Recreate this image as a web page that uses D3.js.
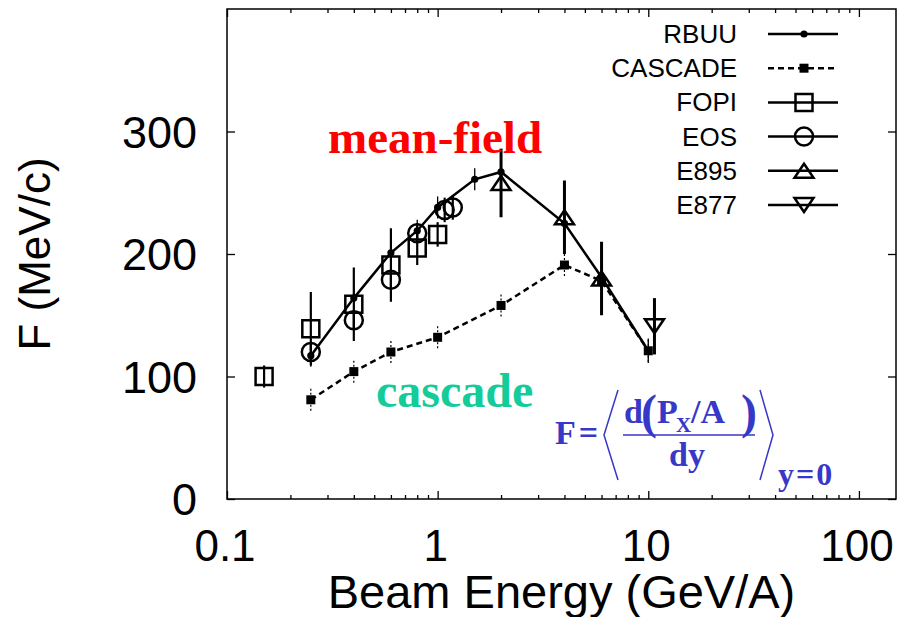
<!DOCTYPE html>
<html>
<head>
<meta charset="UTF-8" />
<script src="https://d3js.org/d3.v7.min.js"></script>
<style>
    body { margin: 0; background: #fff; }
    .sans { font-family: "Liberation Sans", Arial, sans-serif; }
    .serif { font-family: "Liberation Serif", "Times New Roman", serif; font-weight: bold; }
</style>
</head>
<body>
<svg id="chart" width="901" height="617"></svg>
<script>
// model curves
var rbuuE = [0.25, 0.4, 0.6, 0.8, 1.0, 1.5, 2, 4, 6, 10];
var rbuuF = [117, 164, 201, 219, 238, 261, 267, 225, 181, 121];
var rbuuErr = [9, 9, 9, 9, 9, 9, 9, 9, 9, 10];

var cascE = [0.25, 0.4, 0.6, 1.0, 2, 4, 6, 10];
var cascF = [81, 104, 120, 132, 158, 191, 178, 121];
var cascErr = [9, 9, 9, 9, 9, 9, 9, 9];

// experiments
var fopiE = [0.15, 0.25, 0.4, 0.6, 0.8, 1.0];
var fopiF = [100, 139, 159, 191, 205, 216];
var fopiErr = [9, 30, 30, 30, 14, 10];

var eosE = [0.25, 0.4, 0.6, 0.8, 1.08, 1.18];
var eosF = [120, 146, 179, 217, 236, 238];
var eosErr = [8, 8, 8, 8, 10, 10];

var e895E = [2, 4, 6];
var e895F = [258, 230, 180];
var e895Err = [28, 30, 30];

var e877E = [10.7];
var e877F = [141];
var e877Err = [23];

var legendNames = ["RBUU", "CASCADE", "FOPI", "EOS", "E895", "E877"];
var xMajor = [0.1, 1, 10, 100];
var xMinor = [];
[0.1, 1, 10, 100].forEach(function (d) {
    for (var k = 2; k <= 9; k++) { if (d * k <= 150) xMinor.push(d * k); }
});
var yMajor = [0, 100, 200, 300];

var svg = d3.select("#chart");
var pL = 227, pR = 896, pT = 9, pB = 499;

var x = d3.scaleLog().domain([0.1, 150]).range([pL, pR]);
var y = d3.scaleLinear().domain([0, 400]).range([pB, pT]);

// frame
svg.append("rect")
    .attr("x", pL).attr("y", pT)
    .attr("width", pR - pL).attr("height", pB - pT)
    .attr("fill", "none").attr("stroke", "#000").attr("stroke-width", 1.5);

function styleAxis(g) {
    g.select(".domain").remove();
    g.selectAll("line").attr("stroke", "#000").attr("stroke-width", 1.3);
    g.selectAll("text").remove();
}

// ticks pointing inward on all four sides
svg.append("g").attr("transform", "translate(0," + pB + ")")
    .call(d3.axisTop(x).tickValues(xMajor).tickSize(8)).call(styleAxis);
svg.append("g").attr("transform", "translate(0," + pB + ")")
    .call(d3.axisTop(x).tickValues(xMinor).tickSize(4)).call(styleAxis);
svg.append("g").attr("transform", "translate(0," + pT + ")")
    .call(d3.axisBottom(x).tickValues(xMajor).tickSize(8)).call(styleAxis);
svg.append("g").attr("transform", "translate(0," + pT + ")")
    .call(d3.axisBottom(x).tickValues(xMinor).tickSize(4)).call(styleAxis);
svg.append("g").attr("transform", "translate(" + pL + ",0)")
    .call(d3.axisRight(y).tickValues(yMajor).tickSize(8)).call(styleAxis);
svg.append("g").attr("transform", "translate(" + pR + ",0)")
    .call(d3.axisLeft(y).tickValues(yMajor).tickSize(8)).call(styleAxis);

// tick labels
svg.selectAll(".xlab").data(xMajor).enter().append("text")
    .attr("class", "sans")
    .attr("x", function (d) { return x(d) - 2; })
    .attr("y", 561)
    .attr("text-anchor", "middle")
    .attr("font-size", 44)
    .text(function (d) { return d; });

svg.selectAll(".ylab").data(yMajor).enter().append("text")
    .attr("class", "sans")
    .attr("x", 197)
    .attr("y", function (d) { return y(d) + 16; })
    .attr("text-anchor", "end")
    .attr("font-size", 45)
    .text(function (d) { return d; });

// axis titles
svg.append("text").attr("class", "sans")
    .attr("transform", "translate(50," + (pT + pB) / 2 + ") rotate(-90)")
    .attr("text-anchor", "middle").attr("font-size", 44)
    .text("F (MeV/c)");
svg.append("text").attr("class", "sans")
    .attr("x", (pL + pR) / 2).attr("y", 608)
    .attr("text-anchor", "middle").attr("font-size", 47)
    .text("Beam Energy (GeV/A)");

// helpers
function pts(xs, ys, es) {
    return xs.map(function (d, i) { return { e: d, f: ys[i], err: es[i] }; });
}
var line = d3.line().x(function (d) { return x(d.e); }).y(function (d) { return y(d.f); });

function errorBars(data, width, dash) {
    svg.append("g").selectAll("line").data(data).enter().append("line")
        .attr("x1", function (d) { return x(d.e); })
        .attr("x2", function (d) { return x(d.e); })
        .attr("y1", function (d) { return y(d.f - d.err); })
        .attr("y2", function (d) { return y(d.f + d.err); })
        .attr("stroke", "#000").attr("stroke-width", width)
        .attr("stroke-dasharray", dash || null);
}

var triUp = "M0,-7L9.5,7L-9.5,7Z";
var triDown = "M0,7L9.5,-7L-9.5,-7Z";
var square = "M-8.5,-8.5H8.5V8.5H-8.5Z";
var smallSquare = "M-4.5,-4.5H4.5V4.5H-4.5Z";

function markers(data, shape) {
    var g = svg.append("g");
    data.forEach(function (d) {
        drawMarker(g, x(d.e), y(d.f), shape);
    });
}
function drawMarker(g, cx, cy, shape) {
    if (shape === "dot") {
        g.append("circle").attr("cx", cx).attr("cy", cy).attr("r", 3.6).attr("fill", "#000");
    } else if (shape === "fsquare") {
        g.append("path").attr("d", smallSquare).attr("transform", "translate(" + cx + "," + cy + ")")
            .attr("fill", "#000");
    } else if (shape === "circle") {
        g.append("circle").attr("cx", cx).attr("cy", cy).attr("r", 9)
            .attr("fill", "none").attr("stroke", "#000").attr("stroke-width", 2.5);
    } else {
        var p = shape === "square" ? square : shape === "up" ? triUp : triDown;
        g.append("path").attr("d", p).attr("transform", "translate(" + cx + "," + cy + ")")
            .attr("fill", "none").attr("stroke", "#000").attr("stroke-width", 2.5);
    }
}

var rbuu = pts(rbuuE, rbuuF, rbuuErr);
var casc = pts(cascE, cascF, cascErr);
var fopi = pts(fopiE, fopiF, fopiErr);
var eos = pts(eosE, eosF, eosErr);
var e895 = pts(e895E, e895F, e895Err);
var e877 = pts(e877E, e877F, e877Err);

// model curves
errorBars(casc, 1.2, "2,2");
svg.append("path").attr("d", line(casc)).attr("fill", "none")
    .attr("stroke", "#000").attr("stroke-width", 2.5).attr("stroke-dasharray", "6,4");
markers(casc, "fsquare");

errorBars(rbuu, 1.3);
svg.append("path").attr("d", line(rbuu)).attr("fill", "none")
    .attr("stroke", "#000").attr("stroke-width", 2.5);
markers(rbuu, "dot");

// experimental points
errorBars(fopi, 2.2);
markers(fopi, "square");
errorBars(eos, 2.2);
markers(eos, "circle");
errorBars(e895, 3);
markers(e895, "up");
errorBars(e877, 3);
markers(e877, "down");

// legend
var shapes = ["dot", "fsquare", "square", "circle", "up", "down"];
var lg = svg.append("g");
legendNames.forEach(function (name, i) {
    var ly = 34 + i * 34.2;
    lg.append("text").attr("class", "sans")
        .attr("x", 737).attr("y", ly + 9)
        .attr("text-anchor", "end").attr("font-size", 26)
        .text(name);
    lg.append("line").attr("x1", 768).attr("x2", 838).attr("y1", ly).attr("y2", ly)
        .attr("stroke", "#000").attr("stroke-width", 2.5)
        .attr("stroke-dasharray", i === 1 ? "6,4" : null);
    drawMarker(lg, 804, ly, shapes[i]);
});

// annotations
svg.append("text").attr("class", "serif")
    .attr("x", 328).attr("y", 153).attr("font-size", 47).attr("fill", "#ff0000")
    .text("mean-field");
svg.append("text").attr("class", "serif")
    .attr("x", 376).attr("y", 407).attr("font-size", 48).attr("fill", "#14cc99")
    .text("cascade");

// formula F = < d(Px/A)/dy >_{y=0}
var blue = "#3737c8";
var fm = svg.append("g").attr("fill", blue);
fm.append("text").attr("class", "serif").attr("x", 555).attr("y", 444).attr("font-size", 34).attr("letter-spacing", 3).text("F=");
fm.append("path").attr("d", "M618,390L604,435L618,480").attr("fill", "none").attr("stroke", blue).attr("stroke-width", 1.5);
fm.append("text").attr("class", "serif").attr("x", 624).attr("y", 423).attr("font-size", 34).text("d");
fm.append("text").attr("class", "serif").attr("x", 641).attr("y", 428).attr("font-size", 48).text("(");
fm.append("text").attr("class", "serif").attr("x", 657).attr("y", 423).attr("font-size", 34).text("P");
fm.append("text").attr("class", "serif").attr("x", 676).attr("y", 432).attr("font-size", 21).text("X");
fm.append("text").attr("class", "serif").attr("x", 691).attr("y", 423).attr("font-size", 34).text("/A");
fm.append("text").attr("class", "serif").attr("x", 741).attr("y", 428).attr("font-size", 48).text(")");
fm.append("line").attr("x1", 623).attr("x2", 755).attr("y1", 435).attr("y2", 435).attr("stroke", blue).attr("stroke-width", 1.5);
fm.append("text").attr("class", "serif").attr("x", 687).attr("y", 466).attr("font-size", 34).attr("text-anchor", "middle").text("dy");
fm.append("path").attr("d", "M760,390L773,435L760,480").attr("fill", "none").attr("stroke", blue).attr("stroke-width", 1.5);
fm.append("text").attr("class", "serif").attr("x", 778).attr("y", 485).attr("font-size", 32).attr("letter-spacing", 2).text("y=0");
</script>
</body>
</html>
